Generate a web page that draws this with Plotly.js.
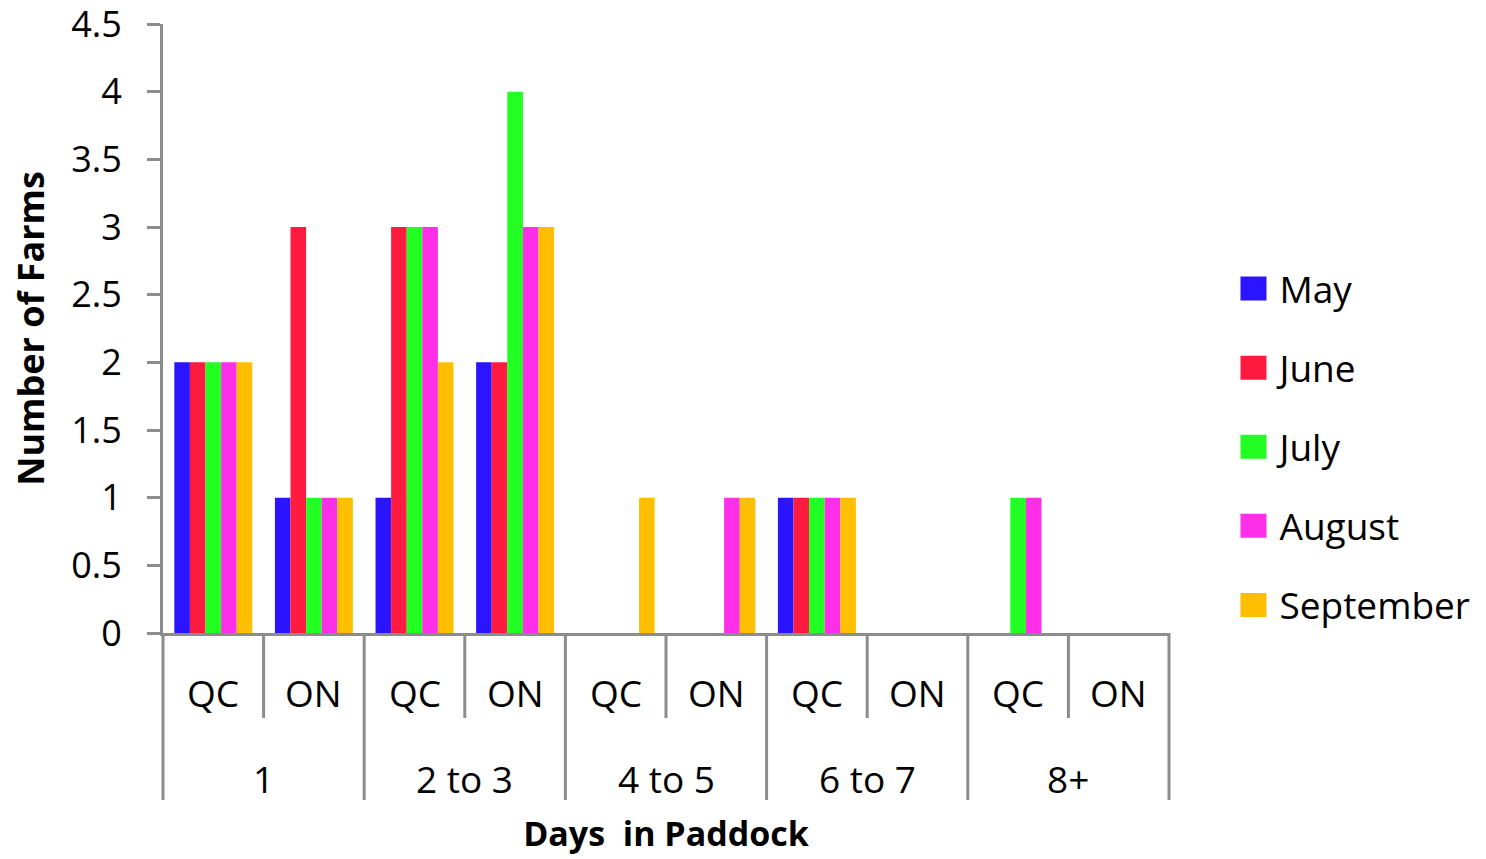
<!DOCTYPE html>
<html>
<head>
<meta charset="utf-8">
<script src="https://cdn.plot.ly/plotly-3.0.1.min.js"></script>
<style>html,body{margin:0;padding:0;background:#fff;}</style>
</head>
<body>
<div id="chart" style="width:1486px;height:859px;"></div>
<script>
const days = ['1','1','2 to 3','2 to 3','4 to 5','4 to 5','6 to 7','6 to 7','8+','8+'];
const province = ['QC','ON','QC','ON','QC','ON','QC','ON','QC','ON'];
const dayGroups = ['1','2 to 3','4 to 5','6 to 7','8+'];
const months = ['May','June','July','August','September'];
const may       = [2,1,1,2,0,0,1,0,0,0];
const june      = [2,3,3,2,0,0,1,0,0,0];
const july      = [2,1,3,4,0,0,1,0,1,0];
const august    = [2,1,3,3,0,1,1,0,1,0];
const september = [2,1,2,3,1,1,1,0,0,0];
const colors = ['#2b14ff','#ff1a40','#22ff22','#ff2ee8','#ffbf00'];
const series = [may, june, july, august, september];

const FONT = 'Open Sans, sans-serif';
const GRAY = '#8c8c8c';
const M_T = 24, M_B = 226;
const PLOT_H = 859 - M_T - M_B;

const traces = series.map((vals, i) => ({
  type: 'bar',
  name: months[i],
  x: [days, province],
  y: vals,
  marker: {color: colors[i]},
  legendgroup: 'g' + i
}));

const nCat = province.length;
const shapes = [];
const annotations = [];
// dividers: short between QC/ON, long between day groups
for (let k = 0; k <= nCat; k++) {
  const long = (k % 2 === 0);
  shapes.push({
    type: 'line', xref: 'paper', yref: 'paper',
    x0: k / nCat, x1: k / nCat, y0: 0, y1: long ? -167 / PLOT_H : -85 / PLOT_H,
    line: {color: GRAY, width: 3}
  });
}
province.forEach((p, i) => {
  annotations.push({
    xref: 'paper', yref: 'paper', x: (i + 0.5) / nCat, y: -59 / PLOT_H,
    text: p, showarrow: false, xanchor: 'center', yanchor: 'middle',
    font: {family: FONT, size: 37, color: '#000'}
  });
});
dayGroups.forEach((g, j) => {
  annotations.push({
    xref: 'paper', yref: 'paper', x: (2 * j + 1) / nCat, y: -145 / PLOT_H,
    text: g, showarrow: false, xanchor: 'center', yanchor: 'middle',
    font: {family: FONT, size: 37, color: '#000'}
  });
});

const layout = {
  width: 1486, height: 859,
  margin: {l: 163, r: 316, t: M_T, b: M_B},
  paper_bgcolor: '#fff', plot_bgcolor: '#fff',
  font: {family: FONT, color: '#000', size: 35},
  barmode: 'group',
  bargap: 0.225,
  bargroupgap: 0,
  showlegend: true,
  legend: {
    x: 1.069, xanchor: 'left', y: (633 - 447) / PLOT_H, yanchor: 'middle',
    font: {family: FONT, size: 37, color: '#000'},
    traceorder: 'grouped', tracegroupgap: 28,
    itemclick: false
  },
  xaxis: {
    type: 'multicategory',
    showline: true, linecolor: GRAY, linewidth: 3,
    ticks: '', showgrid: false, zeroline: false,
    showticklabels: false, showdividers: false,
    title: {text: 'Days  in Paddock', font: {family: FONT, size: 34, color: '#000', weight: 'bold'}, standoff: 188},
    automargin: false
  },
  yaxis: {
    range: [0, 4.5], dtick: 0.5, tick0: 0,
    showline: true, linecolor: GRAY, linewidth: 3,
    ticks: 'outside', ticklen: 13, tickwidth: 3, tickcolor: GRAY,
    ticklabelstandoff: 18, ticklabeloverflow: 'allow',
    showgrid: false, zeroline: false,
    tickfont: {family: FONT, size: 36, color: '#000'},
    title: {text: 'Number of Farms', font: {family: FONT, size: 36, color: '#000', weight: 'bold'}, standoff: 16},
    automargin: false
  },
  shapes: shapes,
  annotations: annotations
};

Plotly.newPlot('chart', traces, layout, {staticPlot: true, displayModeBar: false}).then(() => {
  document.querySelectorAll('.legend .traces').forEach(tr => {
    const txt = tr.querySelector('.legendtext');
    const tx = txt ? parseFloat(txt.getAttribute('x')) || 40 : 40;
    tr.querySelectorAll('.legendpoints path').forEach(p => {
      const x1 = tx - 13, x0 = tx - 39;
      p.setAttribute('d', `M${x1},12H${x0}V-12H${x1}Z`);
      p.setAttribute('transform', '');
    });
  });
});
</script>
</body>
</html>
